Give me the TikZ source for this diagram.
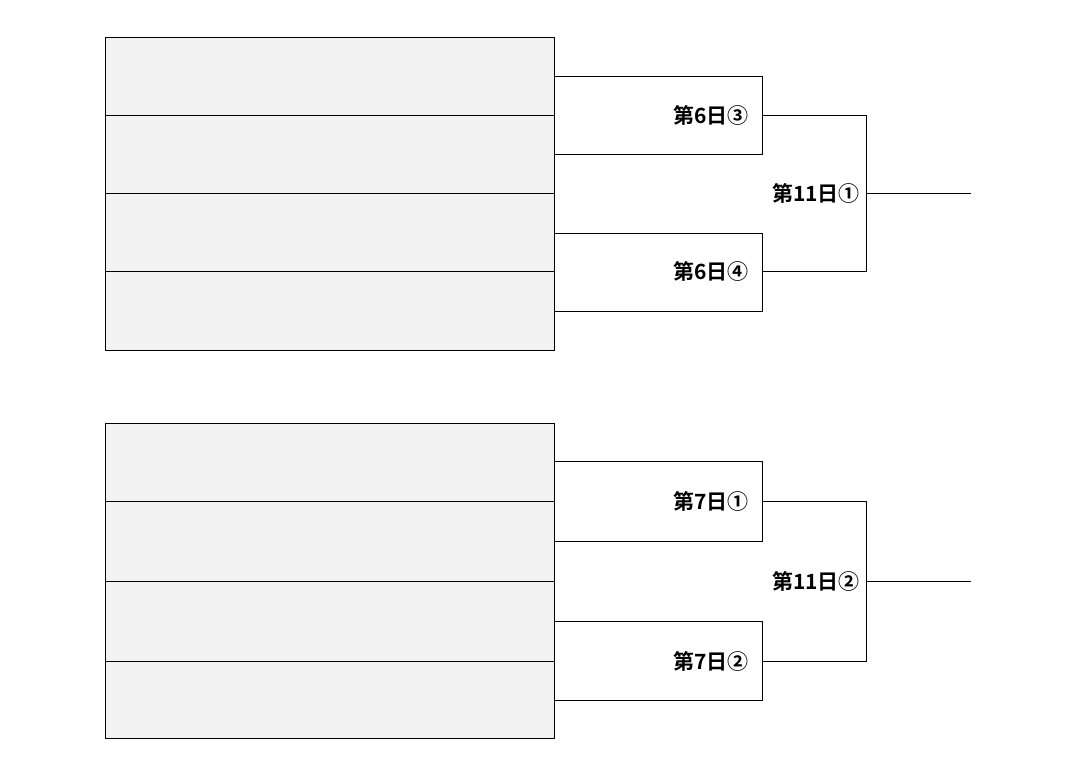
\documentclass[tikz,border=0pt]{standalone}
\usepackage{fontspec}
\newfontfamily\cjk{Noto Sans CJK JP}[BoldFont={Noto Sans CJK JP Bold}]
\begin{document}
\begin{tikzpicture}[x=1pt,y=-1pt,
  slot/.style={draw=black,fill=black!5,line width=0.8pt},
  pair/.style={draw=black,line width=0.8pt},
  wire/.style={draw=black,line width=0.8pt},
  lbl/.style={anchor=east,inner sep=1pt,font=\cjk\bfseries\fontsize{21}{24}\selectfont}]
\useasboundingbox (0,0) rectangle (1075,774);
% top block
\foreach \a/\b [count=\i] in {37/115,115/193,193/271,271/350}
  \draw[slot] (105,\a) rectangle (554,\b);
\draw[pair] (554,76) rectangle (762,154);
\draw[pair] (554,233) rectangle (762,311);
\node[lbl] (a3) at (750,115) {第6日③};
\node[lbl] (a4) at (750,271) {第6日④};
\coordinate (p1) at (762,115); \coordinate (p2) at (762,271);
\coordinate (q) at (866,193); \coordinate (e1) at (971,193);
\draw[wire] (p1) -| (q) |- (p2);
\draw[wire] (q) -- (e1);
\node[lbl] (f1) at (861,193) {第11日①};
% bottom block
\foreach \a/\b in {423/501,501/581,581/661,661/738}
  \draw[slot] (105,\a) rectangle (554,\b);
\draw[pair] (554,461) rectangle (762,541);
\draw[pair] (554,621) rectangle (762,700);
\node[lbl] (b1) at (750,501) {第7日①};
\node[lbl] (b2) at (750,661) {第7日②};
\coordinate (r1) at (762,501); \coordinate (r2) at (762,661);
\coordinate (s) at (866,581); \coordinate (e2) at (971,581);
\draw[wire] (r1) -| (s) |- (r2);
\draw[wire] (s) -- (e2);
\node[lbl] (f2) at (861,581) {第11日②};
\end{tikzpicture}
\end{document}
